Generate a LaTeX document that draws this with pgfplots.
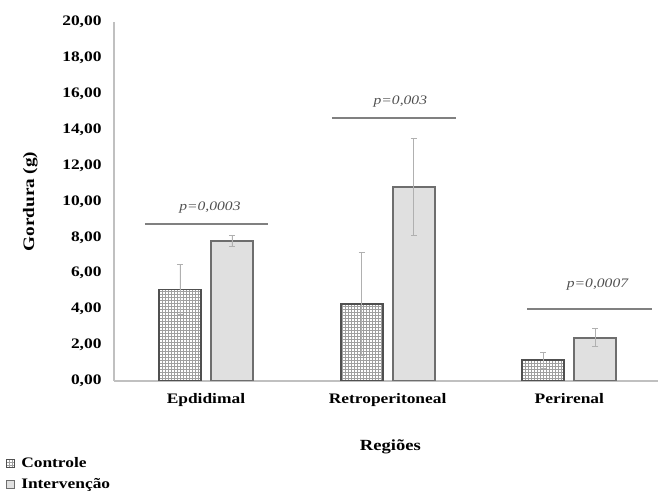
\documentclass[border=0pt]{standalone}
\usepackage{fontspec}
\setmainfont{Liberation Serif}[FakeStretch=1.2]
\usepackage{pgfplots}
\pgfplotsset{compat=1.18}
\usetikzlibrary{patterns}
\definecolor{ctrledge}{HTML}{505050}
\definecolor{intedge}{HTML}{6E6E6E}
\definecolor{intfill}{HTML}{E0E0E0}
\definecolor{errc}{HTML}{B0B0B0}
\definecolor{pline}{HTML}{808080}
\definecolor{ptext}{HTML}{505050}
\definecolor{axc}{HTML}{C0C0C0}
\begin{document}
\begin{tikzpicture}
\path[use as bounding box] (-114pt,-114pt) rectangle (545pt,381pt);
\begin{axis}[
  scale only axis, width=544pt, height=359pt,
  xmin=-0.506, xmax=2.488, ymin=0, ymax=20,
  axis lines*=left,
  axis line style={draw=axc, line width=1.4pt},
  ytick={0,2,...,20},
  xtick={0,1,2}, xticklabels={Epdidimal,Retroperitoneal,Perirenal},
  major tick length=0pt,
  /pgf/number format/.cd, fixed, fixed zerofill, precision=2, use comma, assume math mode=true,
  /pgfplots/.cd,
  yticklabel style={font=\fontsize{14.5}{16}\selectfont\bfseries, anchor=east, xshift=-9pt},
  xticklabel style={font=\fontsize{14.5}{16}\selectfont\bfseries, anchor=north, yshift=-9pt},
  xlabel={Regiões},
  ylabel={Gordura (g)},
  every axis x label/.style={at={(axis description cs:0.508,0)}, yshift=-66pt, anchor=center, font=\fontsize{15.5}{17}\selectfont\bfseries},
  every axis y label/.style={at={(axis description cs:-0.154,0.5)}, rotate=90, anchor=center, font=\fontsize{16}{18}\selectfont\bfseries},
  legend style={at={(axis description cs:-0.201,-0.205)}, anchor=north west, draw=none, fill=none,
    font=\fontsize{14.5}{16}\selectfont\bfseries, row sep=5pt, inner sep=1pt},
  legend cell align=left,
  legend image code/.code={\draw[#1, line width=0.8pt] (0pt,-4pt) rectangle (8pt,4pt); \path (12pt,0pt);},
  error bars/error bar style={errc, line width=0.8pt},
  error bars/error mark options={rotate=90, errc, mark size=3pt, line width=0.8pt},
]
\addplot[ybar, bar width=0.231, bar shift=0, draw=ctrledge, line width=1.9pt,
  fill=white, postaction={pattern=grid, pattern color=gray!75},
  error bars/.cd, y dir=both, y explicit]
  coordinates {(-0.143,5.1) +- (0,1.4) (0.857,4.3) +- (0,2.85) (1.857,1.15) +- (0,0.45)};
\addlegendentry{Controle}
\addplot[ybar, bar width=0.231, bar shift=0, draw=intedge, line width=2pt,
  fill=intfill,
  error bars/.cd, y dir=both, y explicit]
  coordinates {(0.143,7.82) +- (0,0.3) (1.143,10.8) +- (0,2.7) (2.143,2.42) +- (0,0.5)};
\addlegendentry{Intervenção}
% significance lines
\addplot[forget plot, pline, line width=1.8pt] coordinates {(-0.336,8.75) (0.341,8.75)};
\addplot[forget plot, pline, line width=1.8pt] coordinates {(0.693,14.67) (1.376,14.67)};
\addplot[forget plot, pline, line width=1.8pt] coordinates {(1.767,4.01) (2.455,4.01)};
\node[font=\fontsize{13}{15}\selectfont\itshape, text=ptext] at (axis cs:0.022,9.64) {p=0,0003};
\node[font=\fontsize{13}{15}\selectfont\itshape, text=ptext] at (axis cs:1.070,15.56) {p=0,003};
\node[font=\fontsize{13}{15}\selectfont\itshape, text=ptext] at (axis cs:2.155,5.35) {p=0,0007};
\end{axis}
\end{tikzpicture}
\end{document}
